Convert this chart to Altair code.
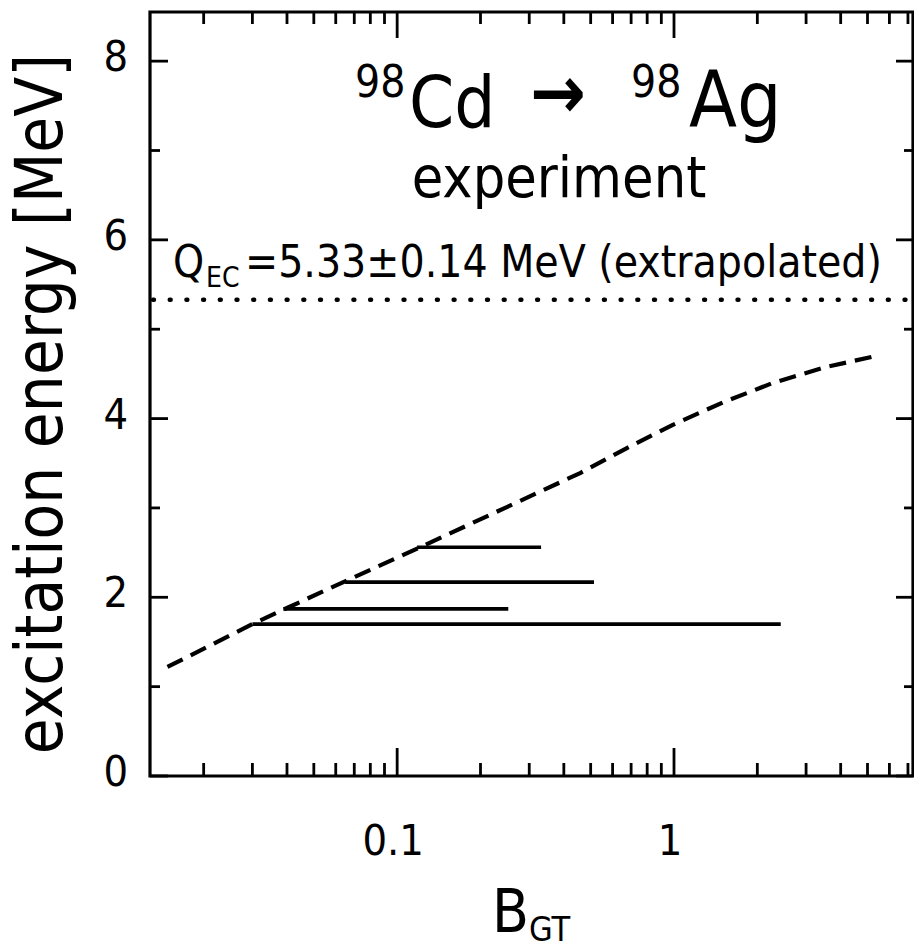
import altair as alt
import pandas as pd

# ---------------- data ----------------
curve_b = [0.0148, 0.030, 0.040, 0.066, 0.121, 0.249, 0.458, 0.676, 0.99, 1.50, 2.28, 3.57, 5.55]
curve_e = [1.22, 1.70, 1.88, 2.19, 2.56, 3.01, 3.39, 3.67, 3.93, 4.18, 4.40, 4.58, 4.71]

level_e = [2.56, 2.17, 1.87, 1.70]
level_b_lo = [0.118, 0.0649, 0.0388, 0.030]
level_b_hi = [0.331, 0.514, 0.252, 2.43]

q_ec = [5.33]

x_domain = [0.0128, 7.3]
y_domain = [0, 8.55]

y_major = [0, 2, 4, 6, 8]
y_minor = [1, 3, 5, 7]
x_major = [0.1, 1]
x_major_labels = ["0.1", "1"]
x_minor = [0.02, 0.03, 0.04, 0.05, 0.06, 0.07, 0.08, 0.09,
           0.2, 0.3, 0.4, 0.5, 0.6, 0.7, 0.8, 0.9,
           2, 3, 4, 5, 6, 7]

# ---------------- layout ----------------
W, H = 763, 764
FONT = "Liberation Sans Narrow, DejaVu Sans Condensed, Liberation Sans, sans-serif"

xs = alt.Scale(type="log", domain=x_domain, nice=False)
ys = alt.Scale(domain=y_domain, nice=False, zero=False)

curve_df = pd.DataFrame({"B": curve_b, "E": curve_e})
level_df = pd.DataFrame({"E": level_e, "lo": level_b_lo, "hi": level_b_hi})

levels = alt.Chart(level_df).mark_rule(color="black", strokeWidth=3.6).encode(
    x=alt.X("lo:Q", scale=xs, axis=None),
    x2="hi:Q",
    y=alt.Y("E:Q", scale=ys, axis=None),
)

curve = alt.Chart(curve_df).mark_line(color="black", strokeWidth=4.2, strokeDash=[17, 9]).encode(
    x=alt.X("B:Q", scale=xs, axis=None),
    y=alt.Y("E:Q", scale=ys, axis=None),
)

qline = alt.Chart(pd.DataFrame({"q": q_ec})).mark_rule(
    color="black", strokeWidth=4.4, strokeDash=[1, 15.7], strokeCap="round"
).encode(
    y=alt.Y("q:Q", scale=ys, axis=None),
    x=alt.value(3), x2=alt.value(W),
)


def yticks(vals, x0, x1):
    return alt.Chart(pd.DataFrame({"v": vals})).mark_rule(color="black", strokeWidth=2.8).encode(
        y=alt.Y("v:Q", scale=ys, axis=None), x=alt.value(x0), x2=alt.value(x1))


def xticks(vals, y0, y1):
    return alt.Chart(pd.DataFrame({"v": vals})).mark_rule(color="black", strokeWidth=2.8).encode(
        x=alt.X("v:Q", scale=xs, axis=None), y=alt.value(y0), y2=alt.value(y1))


ticks = [
    yticks(y_major, 0, 18), yticks(y_minor, 0, 10),
    yticks(y_major, W - 17, W), yticks(y_minor, W - 9, W),
    xticks(x_major, H, H - 28), xticks(x_minor, H, H - 13),
    xticks(x_major, 0, 26), xticks(x_minor, 0, 12),
]

# tick labels placed through the scales
ylabels = alt.Chart(pd.DataFrame({"v": y_major, "t": [str(v) for v in y_major]})).mark_text(
    font=FONT, fontSize=43, align="right", baseline="middle", color="black", dx=-22, dy=-3
).encode(y=alt.Y("v:Q", scale=ys, axis=None), x=alt.value(0), text="t:N")

xlabels = alt.Chart(pd.DataFrame({"v": x_major, "t": x_major_labels})).mark_text(
    font=FONT, fontSize=43, align="center", baseline="alphabetic", color="black", dx=-4
).encode(x=alt.X("v:Q", scale=xs, axis=None), y=alt.value(H + 79), text="t:N")


def label(t, x, y, size, align="left", baseline="alphabetic", angle=0, weight=None):
    kw = dict(font=FONT, fontSize=size, align=align, baseline=baseline, color="black")
    if angle:
        kw["angle"] = angle
    if weight:
        kw["fontWeight"] = weight
    return alt.Chart(pd.DataFrame({"t": [t]})).mark_text(**kw).encode(
        text="t:N", x=alt.value(x), y=alt.value(y))


texts = [
    label("98", 205, 85, 44),
    label("Cd", 259, 115, 72),
    label("→", 408, 84, 74, align="center", baseline="middle", weight="bold"),
    label("98", 481, 85, 44),
    label("Ag", 539, 115, 78),
    label("experiment", 409, 185, 57, align="center"),
    label("Q", 23, 265, 44),
    label("EC", 56, 275, 28),
    label("=5.33±0.14 MeV (extrapolated)", 95, 265, 44),
    label("excitation energy [MeV]", -88, 392, 65, align="center", baseline="alphabetic", angle=270),
    label("B", 342, 920, 60),
    label("GT", 379, 929, 34),
]

chart = alt.layer(qline, curve, levels, *ticks, ylabels, xlabels, *texts).properties(
    width=W, height=H,
    autosize=alt.AutoSizeParams(type="none"),
    padding={"left": 150, "top": 12, "right": 1, "bottom": 172},
    background="white",
).configure_view(stroke="black", strokeWidth=3.2)

chart.save("out.html", embed_options={"renderer": "svg", "actions": False})
